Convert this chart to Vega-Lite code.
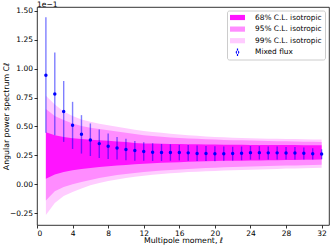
{
  "$schema": "https://vega.github.io/schema/vega-lite/v6.json",
  "width": 292,
  "height": 218,
  "autosize": {"type": "none"},
  "padding": {"left": 37, "top": 7, "right": 2, "bottom": 21},
  "background": "white",
  "config": {
    "font": "DejaVu Sans",
    "view": {"stroke": "black", "strokeWidth": 0.8},
    "axis": {
      "domain": false, "grid": false, "tickColor": "black", "tickWidth": 0.8, "tickSize": 3,
      "labelColor": "black", "labelFontSize": 7.5, "labelFont": "DejaVu Sans", "labelOverlap": false,
      "titleFont": "DejaVu Sans", "titleFontSize": 7.8, "titleFontWeight": "normal", "titleColor": "black"
    }
  },
  "title": {"text": "1e\u22121", "anchor": "start", "frame": "group", "fontSize": 7.6, "fontWeight": "normal", "font": "DejaVu Sans", "color": "black", "offset": 0, "dy": 1.5},
  "data": {"values": [
    {"ell":1,"cl":0.942,"elo":0.445,"ehi":1.444,"lo68":0.049,"hi68":0.450,"lo95":-0.140,"hi95":0.650,"lo99":-0.265,"hi99":0.765},
    {"ell":2,"cl":0.780,"elo":0.425,"ehi":1.138,"lo68":0.085,"hi68":0.425,"lo95":-0.060,"hi95":0.590,"lo99":-0.160,"hi99":0.690},
    {"ell":3,"cl":0.630,"elo":0.367,"ehi":0.893,"lo68":0.106,"hi68":0.410,"lo95":-0.022,"hi95":0.555,"lo99":-0.100,"hi99":0.630},
    {"ell":4,"cl":0.510,"elo":0.306,"ehi":0.713,"lo68":0.121,"hi68":0.399,"lo95":0.000,"hi95":0.525,"lo99":-0.066,"hi99":0.590},
    {"ell":5,"cl":0.432,"elo":0.266,"ehi":0.598,"lo68":0.132,"hi68":0.392,"lo95":0.020,"hi95":0.505,"lo99":-0.035,"hi99":0.560},
    {"ell":6,"cl":0.384,"elo":0.245,"ehi":0.526,"lo68":0.141,"hi68":0.386,"lo95":0.037,"hi95":0.490,"lo99":-0.008,"hi99":0.540},
    {"ell":7,"cl":0.352,"elo":0.228,"ehi":0.474,"lo68":0.149,"hi68":0.381,"lo95":0.054,"hi95":0.478,"lo99":0.011,"hi99":0.524},
    {"ell":8,"cl":0.329,"elo":0.219,"ehi":0.439,"lo68":0.156,"hi68":0.376,"lo95":0.069,"hi95":0.468,"lo99":0.029,"hi99":0.511},
    {"ell":9,"cl":0.315,"elo":0.214,"ehi":0.410,"lo68":0.162,"hi68":0.370,"lo95":0.080,"hi95":0.456,"lo99":0.042,"hi99":0.498},
    {"ell":10,"cl":0.302,"elo":0.208,"ehi":0.393,"lo68":0.168,"hi68":0.365,"lo95":0.090,"hi95":0.445,"lo99":0.055,"hi99":0.485},
    {"ell":11,"cl":0.292,"elo":0.204,"ehi":0.375,"lo68":0.174,"hi68":0.358,"lo95":0.099,"hi95":0.434,"lo99":0.065,"hi99":0.472},
    {"ell":12,"cl":0.284,"elo":0.203,"ehi":0.364,"lo68":0.179,"hi68":0.354,"lo95":0.107,"hi95":0.425,"lo99":0.075,"hi99":0.460},
    {"ell":13,"cl":0.278,"elo":0.202,"ehi":0.355,"lo68":0.183,"hi68":0.352,"lo95":0.113,"hi95":0.418,"lo99":0.082,"hi99":0.452},
    {"ell":14,"cl":0.275,"elo":0.202,"ehi":0.349,"lo68":0.186,"hi68":0.350,"lo95":0.119,"hi95":0.411,"lo99":0.089,"hi99":0.445},
    {"ell":15,"cl":0.275,"elo":0.204,"ehi":0.346,"lo68":0.189,"hi68":0.349,"lo95":0.124,"hi95":0.405,"lo99":0.095,"hi99":0.438},
    {"ell":16,"cl":0.275,"elo":0.207,"ehi":0.341,"lo68":0.192,"hi68":0.348,"lo95":0.129,"hi95":0.400,"lo99":0.101,"hi99":0.431},
    {"ell":17,"cl":0.272,"elo":0.205,"ehi":0.339,"lo68":0.195,"hi68":0.347,"lo95":0.133,"hi95":0.396,"lo99":0.106,"hi99":0.425},
    {"ell":18,"cl":0.267,"elo":0.201,"ehi":0.336,"lo68":0.197,"hi68":0.346,"lo95":0.137,"hi95":0.393,"lo99":0.110,"hi99":0.419},
    {"ell":19,"cl":0.266,"elo":0.201,"ehi":0.332,"lo68":0.200,"hi68":0.345,"lo95":0.141,"hi95":0.390,"lo99":0.113,"hi99":0.414},
    {"ell":20,"cl":0.264,"elo":0.200,"ehi":0.329,"lo68":0.202,"hi68":0.344,"lo95":0.144,"hi95":0.387,"lo99":0.116,"hi99":0.410},
    {"ell":21,"cl":0.265,"elo":0.203,"ehi":0.326,"lo68":0.203,"hi68":0.343,"lo95":0.147,"hi95":0.384,"lo99":0.119,"hi99":0.406},
    {"ell":22,"cl":0.266,"elo":0.205,"ehi":0.325,"lo68":0.204,"hi68":0.342,"lo95":0.150,"hi95":0.382,"lo99":0.122,"hi99":0.403},
    {"ell":23,"cl":0.269,"elo":0.209,"ehi":0.327,"lo68":0.205,"hi68":0.342,"lo95":0.152,"hi95":0.380,"lo99":0.125,"hi99":0.401},
    {"ell":24,"cl":0.274,"elo":0.214,"ehi":0.331,"lo68":0.206,"hi68":0.341,"lo95":0.154,"hi95":0.378,"lo99":0.127,"hi99":0.399},
    {"ell":25,"cl":0.274,"elo":0.215,"ehi":0.330,"lo68":0.207,"hi68":0.341,"lo95":0.156,"hi95":0.376,"lo99":0.129,"hi99":0.397},
    {"ell":26,"cl":0.272,"elo":0.214,"ehi":0.328,"lo68":0.208,"hi68":0.340,"lo95":0.158,"hi95":0.375,"lo99":0.131,"hi99":0.395},
    {"ell":27,"cl":0.272,"elo":0.215,"ehi":0.326,"lo68":0.209,"hi68":0.340,"lo95":0.160,"hi95":0.373,"lo99":0.133,"hi99":0.394},
    {"ell":28,"cl":0.270,"elo":0.214,"ehi":0.323,"lo68":0.210,"hi68":0.339,"lo95":0.162,"hi95":0.372,"lo99":0.136,"hi99":0.392},
    {"ell":29,"cl":0.270,"elo":0.215,"ehi":0.322,"lo68":0.211,"hi68":0.339,"lo95":0.164,"hi95":0.370,"lo99":0.138,"hi99":0.391},
    {"ell":30,"cl":0.268,"elo":0.214,"ehi":0.319,"lo68":0.212,"hi68":0.338,"lo95":0.166,"hi95":0.369,"lo99":0.140,"hi99":0.389},
    {"ell":31,"cl":0.265,"elo":0.214,"ehi":0.313,"lo68":0.213,"hi68":0.338,"lo95":0.168,"hi95":0.368,"lo99":0.142,"hi99":0.388},
    {"ell":32,"cl":0.263,"elo":0.217,"ehi":0.303,"lo68":0.214,"hi68":0.338,"lo95":0.170,"hi95":0.367,"lo99":0.144,"hi99":0.387}
  ]},
  "encoding": {
    "x": {"field": "ell", "type": "quantitative",
      "scale": {"domain": [0, 32.83], "nice": false, "zero": false},
      "axis": {"values": [0,4,8,12,16,20,24,28,32], "tickCount": 40, "title": "Multipole moment, \u2113", "titleBaseline": "alphabetic", "titleY": 17.5, "labelPadding": 1}}
  },
  "layer": [
    {"mark": {"type": "area", "opacity": 1},
     "encoding": {
       "y": {"field": "lo99", "type": "quantitative",
         "scale": {"domain": [-0.351, 1.532], "nice": false, "zero": false},
         "axis": {"values": [-0.25,0,0.25,0.5,0.75,1,1.25,1.5], "tickCount": 40, "format": ".2f", "title": "Angular power spectrum C\u2113", "titleX": -31, "titleBaseline": "middle", "labelPadding": 1.5}},
       "y2": {"field": "hi99"},
       "color": {"datum": "99% C.L. isotropic", "type": "nominal",
         "scale": {"domain": ["68% C.L. isotropic","95% C.L. isotropic","99% C.L. isotropic","Mixed flux"], "range": ["#ff14ff","#ff8cff","#ffccff","#0000ff"]},
         "legend": {
           "title": null, "orient": "none", "legendX": 190, "legendY": 3.5,
           "padding": 3, "strokeColor": "#cccccc", "fillColor": "rgba(255,255,255,0.8)", "cornerRadius": 2,
           "labelFontSize": 7.4, "labelFont": "DejaVu Sans", "labelColor": "black",
           "symbolSize": 64, "symbolOffset": 3.5, "labelOffset": 13.5, "rowPadding": 3.6, "symbolOpacity": 1,
           "encode": {"symbols": {"update": {
             "shape": {"signal": "datum.value === 'Mixed flux' ? 'M-0.15,-0.95H0.15V0.95H-0.15Z M-0.45,0A0.45,0.45,0,1,0,0.45,0A0.45,0.45,0,1,0,-0.45,0Z' : 'M-1.875,-0.65H1.875V0.65H-1.875Z'"},
             "strokeWidth": {"value": 0}
           }}}
         }}
     }},
    {"mark": {"type": "area", "opacity": 1},
     "encoding": {
       "y": {"field": "lo95", "type": "quantitative"},
       "y2": {"field": "hi95"},
       "color": {"datum": "95% C.L. isotropic", "type": "nominal"}
     }},
    {"mark": {"type": "area", "opacity": 1},
     "encoding": {
       "y": {"field": "lo68", "type": "quantitative"},
       "y2": {"field": "hi68"},
       "color": {"datum": "68% C.L. isotropic", "type": "nominal"}
     }},
    {"mark": {"type": "rule", "color": "#0000ff", "opacity": 0.5, "strokeWidth": 1.4},
     "encoding": {
       "y": {"field": "elo", "type": "quantitative"},
       "y2": {"field": "ehi"}
     }},
    {"mark": {"type": "point", "filled": true, "shape": "circle", "size": 12, "opacity": 1},
     "encoding": {
       "y": {"field": "cl", "type": "quantitative"},
       "color": {"datum": "Mixed flux", "type": "nominal"}
     }}
  ]
}
